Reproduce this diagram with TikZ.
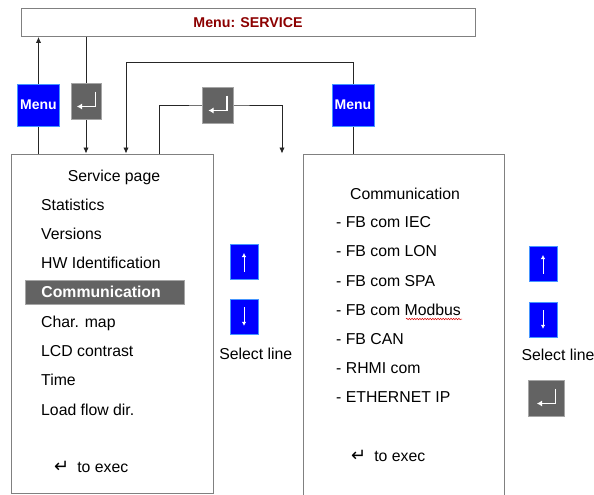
\documentclass[tikz,border=0pt]{standalone}
\usepackage{fontspec}
\setmainfont{Liberation Sans}
\newfontfamily\symfont{DejaVu Sans}
\usetikzlibrary{positioning, arrows.meta, backgrounds}
\usetikzlibrary{decorations.pathmorphing}
\tikzstyle{every node}=[font=\fontsize{15.8}{19}\selectfont, inner sep=0pt]

\definecolor{keyblue}{RGB}{0,0,255}
\definecolor{keyrim}{RGB}{70,150,255}
\definecolor{keygray}{RGB}{99,99,99}
\definecolor{keygrayrim}{RGB}{165,165,165}
\definecolor{titlered}{RGB}{140,0,0}
\definecolor{panelgray}{RGB}{128,128,128}

\begin{document}
\begin{tikzpicture}[
            x=1pt, y=-1pt,
            panel/.style={draw=panelgray, line width=1pt, inner sep=0pt},
            menu key/.style={fill=keyblue, draw=keyrim, line width=0.8pt, minimum width=42pt, minimum height=42pt,
                inner sep=0pt, text=white, font=\fontsize{14}{16}\selectfont\bfseries},
            enter key/.style={fill=keygray, draw=keygrayrim, line width=0.8pt, minimum width=30pt, minimum height=36pt,
                inner sep=0pt, path picture={
                    \draw[white, line width=1.1pt, -{Latex[length=5pt,width=6pt]}]
                        ([shift={(9.5pt,9.5pt)}]path picture bounding box.center) -- ++(0pt,-15pt) -- ++(-18.5pt,0pt);}},
            up key/.style={fill=keyblue, draw=keyrim, line width=0.8pt, minimum width=28pt, minimum height=35pt, inner sep=0pt,
                path picture={\draw[white, line width=0.9pt, -{Latex[length=4pt,width=4.5pt]}]
                    ([yshift=-10pt]path picture bounding box.center) -- ([yshift=8.5pt]path picture bounding box.center);}},
            down key/.style={fill=keyblue, draw=keyrim, line width=0.8pt, minimum width=28pt, minimum height=35pt, inner sep=0pt,
                path picture={\draw[white, line width=0.9pt, -{Latex[length=4pt,width=4.5pt]}]
                    ([yshift=10pt]path picture bounding box.center) -- ([yshift=-8.5pt]path picture bounding box.center);}},
            sel bar/.style={fill=keygray, draw=keygrayrim, line width=0.8pt, text=white, anchor=west, align=left,
                text width=127pt, inner xsep=16pt, inner ysep=0pt, minimum height=24pt,
                font=\fontsize{15.8}{19}\selectfont\bfseries},
            link/.style={-{Latex[length=6pt,width=5.5pt]}, draw=black!85, line width=0.9pt},
            spell/.style={draw=red!85!black, line width=0.5pt, decorate, decoration={snake, amplitude=0.7pt, segment length=2.6pt}}
        ]
            \useasboundingbox (0,0) rectangle (594,495);

            % --- Menu header and the two pages ---
            \node[panel, minimum width=454pt, minimum height=28pt, text=titlered,
                font=\fontsize{14.2}{16}\selectfont\bfseries] (service) at (248,22.5) {Menu: SERVICE};
            \node[panel, minimum width=202pt, minimum height=339pt] (svcpage) at (112,323.5) {};
            \node[panel, minimum width=201pt, minimum height=346pt] (commpage) at (403.5,327) {};

            % --- Keys ---
            \node[menu key] (menuL) at (38.5,105) {Menu};
            \node[enter key] (enterL) at (86,101) {};
            \node[enter key, minimum width=31pt] (enterM) at (217.5,105) {};
            \node[menu key] (menuR) at (353,105) {Menu};

            % --- Service page ---
            \node[anchor=base] (svctitle) at (114,181) {Service page};
            \foreach \entry/\y [count=\i] in {Statistics/210, Versions/239.3, HW Identification/268.6,
                Char. map/327.2, LCD contrast/356.5, Time/385.8, Load flow dir./415.1}
                \node[anchor=base west] (svc\i) at (41,\y) {\entry};
            \node[sel bar] (svcsel) at (25,292) {Communication};
            \node[anchor=base west] (svcexec) at (54,472.7) {{\symfont\fontsize{18}{19}\selectfont ↵}\hspace{8pt}to exec};

            \node[up key] (upL) at (244,261.5) {};
            \node[down key] (downL) [below=20pt of upL] {};
            \node[anchor=base] (selL) at (255.7,359.3) {Select line};

            % --- Communication page ---
            \node[anchor=base] (commtitle) at (405,199) {Communication};
            \foreach \entry [count=\i] in {- FB com IEC, - FB com LON, - FB com SPA, - FB com Modbus,
                - FB CAN, - RHMI com, - ETHERNET IP}
                \node[anchor=base west] (comm\i) at (336,198.5+29.2*\i) {\entry};
            \draw[spell] (406,319) -- (462,319);
            \node[anchor=base west] (commexec) at (351,461) {{\symfont\fontsize{18}{19}\selectfont ↵}\hspace{8pt}to exec};

            \node[up key] (upR) at (543,263.5) {};
            \node[down key] (downR) [below=21pt of upR] {};
            \node[anchor=base] (selR) at (558,360.7) {Select line};
            \node[enter key, minimum width=36pt] (enterR) at (546,398) {};

            % --- Connectors ---
            \coordinate (backtop) at (126,62);
            \coordinate (fwdL) at (159,0);
            \coordinate (fwdR) at (282,0);
            \begin{scope}[on background layer]
                \draw[link] (svcpage.north -| menuL) -- (service.south -| menuL);
                \draw[link] (service.south -| enterL) -- (svcpage.north -| enterL);
                \draw[link] (commpage.north -| menuR) |- (backtop) -- (svcpage.north -| backtop);
                \draw[link] (svcpage.north -| fwdL) |- (enterM.center) -| (commpage.north -| fwdR);
            \end{scope}

        \end{tikzpicture}
\end{document}
